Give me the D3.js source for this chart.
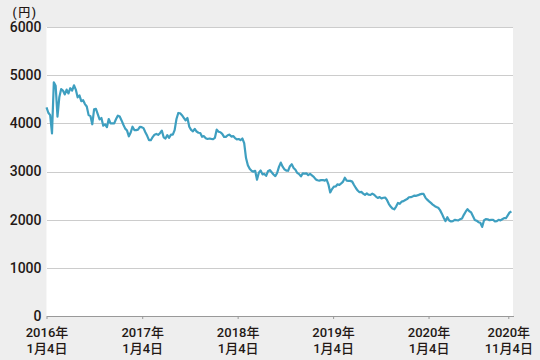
<!DOCTYPE html>
<html>
<head>
<meta charset="utf-8">
<script src="https://cdn.jsdelivr.net/npm/d3@7"></script>
<style>
  html, body { margin: 0; padding: 0; background: #eeeeee; }
  #chartArea text { font-family: Roboto, "Noto Sans CJK JP", sans-serif; fill: #231815; font-weight: 500; }
</style>
</head>
<body>
<div id="chartArea"></div>
<script>
// weekly closing price (yen), first week starting 2016-01-04
var firstWeek = "2016-01-04";
var weeklyClose = [
  4330, 4220, 4170, 3790, 4850, 4780, 4140, 4540, 4710, 4680,
  4600, 4700, 4620, 4730, 4680, 4790, 4700, 4540, 4580, 4460,
  4480, 4400, 4350, 4170, 4150, 3980, 4290, 4300, 4190, 4080,
  4110, 3950, 3980, 3920, 4090, 4000, 4000, 4000, 4090, 4160,
  4140, 4060, 3970, 3890, 3850, 3730, 3810, 3930, 3860, 3860,
  3870, 3925, 3920, 3900, 3815, 3740, 3650, 3650, 3715, 3765,
  3780, 3760, 3795, 3850, 3710, 3685, 3755, 3700, 3765, 3765,
  3860, 4090, 4215, 4210, 4170, 4115, 4060, 4110, 3930, 3865,
  3835, 3885, 3830, 3805, 3800, 3720,
  3735, 3690, 3675, 3685, 3678, 3672, 3700, 3870, 3825, 3815,
  3780, 3718, 3720, 3753, 3765, 3725, 3735, 3695, 3668, 3675,
  3650, 3685, 3590, 3280, 3130, 3055, 3015, 2995, 3015, 2830,
  2975, 3020, 2940, 2950, 2910, 3005, 3030, 2985, 2938, 2905,
  2970, 3095, 3185, 3100, 3045, 3020, 3015, 3110, 3150, 3075,
  3035, 2970, 2945, 2900, 2960, 2955, 2960, 2925, 2950, 2920,
  2890, 2840, 2818, 2812, 2820, 2823, 2810, 2838, 2735, 2565,
  2635, 2685, 2690, 2735, 2720, 2752, 2790, 2870, 2810, 2805,
  2805, 2790, 2720, 2657, 2605,
  2570, 2577, 2540, 2515, 2545, 2517, 2515, 2540, 2518, 2480,
  2450, 2470, 2440, 2455, 2460, 2410, 2330, 2273, 2230, 2215,
  2272, 2348, 2330, 2375, 2385, 2408, 2427, 2465, 2467, 2483,
  2500, 2495, 2509, 2525, 2535, 2535, 2458, 2415, 2380, 2348,
  2313, 2284, 2264, 2247, 2198, 2125, 2040, 1970, 2050, 1983,
  1962, 1970, 1996, 1990, 1986, 2010, 2025, 2100, 2165, 2218,
  2175, 2150, 2072, 1995, 1978, 1947, 1935, 1850, 1983, 2013,
  2008, 1989, 1996, 1995, 1965, 1970, 1997, 1985, 2008, 2032,
  2030, 2090, 2150, 2170
];

var yTicks = [0, 1000, 2000, 3000, 4000, 5000, 6000];
var xTickDates = ["2016-01-04", "2017-01-04", "2018-01-04", "2019-01-04", "2020-01-04", "2020-11-04"];
var xTickLabels = [
  ["2016年", "1月4日"],
  ["2017年", "1月4日"],
  ["2018年", "1月4日"],
  ["2019年", "1月4日"],
  ["2020年", "1月4日"],
  ["2020年", "11月4日"]
];
var xDomain = ["2016-01-04", "2020-11-22"];
var unitLabel = "(円)";

var parseDate = d3.timeParse("%Y-%m-%d");
var margin = {top: 27, right: 27, bottom: 44, left: 46.5};
var W = 540, H = 360;
var width = W - margin.left - margin.right;
var height = H - margin.top - margin.bottom;

var start = parseDate(firstWeek);
var data = weeklyClose.map(function(v, i) {
  return {date: d3.timeDay.offset(start, i * 7), value: v};
});

var x = d3.scaleTime()
  .domain(xDomain.map(parseDate))
  .range([0, width]);
var y = d3.scaleLinear().domain([0, 6000]).range([height, 0]);

var svg = d3.select("#chartArea").append("svg")
  .attr("width", W)
  .attr("height", H);

svg.append("rect")
  .attr("width", W).attr("height", H)
  .attr("fill", "#eeeeee");

var g = svg.append("g").attr("transform", "translate(" + margin.left + "," + margin.top + ")");

// plot background
g.append("rect")
  .attr("width", width).attr("height", height)
  .attr("fill", "#ffffff");

// y axis with gridlines
var yAxis = g.append("g")
  .attr("class", "axis axis--y")
  .call(d3.axisLeft(y).tickValues(yTicks).tickSize(-width).tickPadding(5).tickFormat(d3.format("d")));
yAxis.select(".domain").remove();
yAxis.selectAll("line")
  .attr("stroke", "#cccccc")
  .attr("shape-rendering", "crispEdges");
yAxis.selectAll("text")
  .style("font-size", "14px");

// x axis
var xAxis = g.append("g")
  .attr("class", "axis axis--x")
  .attr("transform", "translate(0," + height + ")")
  .call(d3.axisBottom(x).tickValues(xTickDates.map(parseDate)).tickSize(3).tickSizeOuter(0).tickFormat(""));
xAxis.select(".domain")
  .attr("stroke", "#999999")
  .attr("shape-rendering", "crispEdges");
xAxis.selectAll(".tick line")
  .attr("stroke", "#999999");

xAxis.selectAll(".tick")
  .each(function(d, i) {
    var t = d3.select(this).append("text")
      .attr("text-anchor", "middle")
      .style("font-size", "13px");
    t.append("tspan").attr("x", 0).attr("y", 21).text(xTickLabels[i][0]);
    t.append("tspan").attr("x", 0).attr("y", 37).text(xTickLabels[i][1]);
  });

// price line
var line = d3.line()
  .x(function(d) { return x(d.date); })
  .y(function(d) { return y(d.value); });

g.append("path")
  .datum(data)
  .attr("fill", "none")
  .attr("stroke", "#3e9fc0")
  .attr("stroke-width", 2.2)
  .attr("stroke-linejoin", "round")
  .attr("d", line);

// unit label
svg.append("text")
  .attr("x", 25)
  .attr("y", 17)
  .attr("text-anchor", "middle")
  .style("font-size", "12px")
  .style("letter-spacing", "1.5px")
  .text(unitLabel);
</script>
</body>
</html>
